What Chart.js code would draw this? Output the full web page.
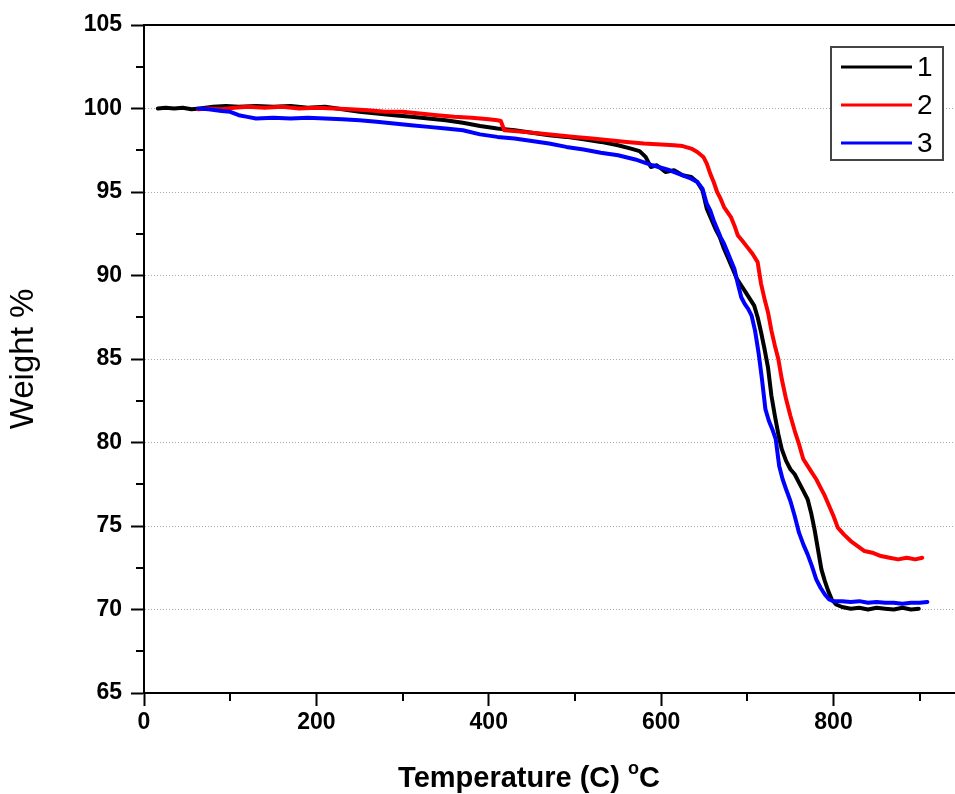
<!DOCTYPE html>
<html>
<head>
<meta charset="utf-8">
<script src="https://cdn.jsdelivr.net/npm/chart.js@4.4.1/dist/chart.umd.min.js"></script>
<style>
  html, body { margin: 0; padding: 0; background: #ffffff; }
  #wrap { width: 955px; height: 794px; }
</style>
</head>
<body>
<div id="wrap"><canvas id="c" width="955" height="794"></canvas></div>
<script>
// ---- data ----
const seriesLabels = ['1', '2', '3'];
const seriesColors = ['#000000', '#ff0000', '#0000ff'];

const temps1 = [
  16, 25, 35, 45, 55, 65, 80, 95, 110, 130,
  150, 170, 190, 210, 230, 250, 270, 290, 310, 330,
  350, 370, 390, 410, 430, 450, 470, 490, 510, 530,
  550, 565, 575, 582, 588, 595, 605, 615, 625, 635,
  642, 648, 653, 658, 663, 668, 673, 678, 683, 688,
  693, 698, 703, 708, 712, 716, 720, 724, 728, 732,
  736, 740, 745, 750, 755, 760, 765, 770, 774, 778,
  782, 786, 790, 794, 798, 803, 810, 820, 830, 840,
  850, 860, 870, 880, 890, 899
];
const weights1 = [
  100.0, 100.05, 100.0, 100.05, 99.95, 100.0, 100.1, 100.15, 100.1, 100.15,
  100.1, 100.15, 100.05, 100.1, 99.95, 99.8, 99.7, 99.6, 99.5, 99.4,
  99.3, 99.15, 98.95, 98.8, 98.7, 98.55, 98.4, 98.3, 98.15, 98.0,
  97.8, 97.6, 97.45, 97.1, 96.5, 96.6, 96.2, 96.3, 96.0, 95.9,
  95.6, 95.1, 94.0, 93.4, 92.8, 92.3, 91.6, 91.0, 90.4, 89.8,
  89.4, 89.0, 88.6, 88.2, 87.5, 86.6, 85.6, 84.5, 82.8, 81.6,
  80.5, 79.6, 78.9, 78.4, 78.1, 77.6, 77.1, 76.6, 75.8, 74.8,
  73.6, 72.4, 71.7, 71.1, 70.6, 70.3, 70.15, 70.05, 70.1, 70.0,
  70.1, 70.05, 70.0, 70.1, 70.0, 70.05
];

const temps2 = [
  63, 75, 90, 105, 120, 140, 160, 180, 200, 220,
  240, 260, 280, 300, 320, 340, 360, 380, 400, 410,
  414, 418, 440, 460, 480, 500, 520, 540, 560, 580,
  600, 615, 625, 635, 642, 649, 653, 657, 661, 665,
  669, 673, 677, 681, 685, 689, 694, 700, 706, 712,
  716, 720, 724, 728, 732, 736, 740, 745, 750, 755,
  760, 765, 770, 775, 780, 785, 790, 795, 800, 805,
  812, 820, 828, 836, 845, 855, 865, 875, 885, 895,
  903
];
const weights2 = [
  99.95, 100.0, 99.95, 100.05, 100.1, 100.05, 100.1, 100.0, 100.05, 100.0,
  99.95, 99.9, 99.8, 99.8, 99.7, 99.6, 99.5, 99.45, 99.35, 99.3,
  99.25, 98.7, 98.6, 98.5, 98.4, 98.3, 98.2, 98.1, 98.0, 97.9,
  97.85, 97.8, 97.75, 97.6, 97.4, 97.1, 96.7, 96.1, 95.6, 95.0,
  94.6, 94.1, 93.8, 93.5, 93.0, 92.4, 92.1, 91.7, 91.3, 90.8,
  89.5, 88.6, 87.8, 86.7, 85.8, 85.0, 83.8, 82.6, 81.6, 80.7,
  79.9, 79.0, 78.6, 78.2, 77.8, 77.3, 76.8, 76.2, 75.6, 74.9,
  74.5, 74.1, 73.8, 73.5, 73.4, 73.2, 73.1, 73.0, 73.1, 73.0,
  73.1
];

const temps3 = [
  63, 75, 90, 100, 110, 120, 130, 150, 170, 190,
  210, 230, 250, 270, 290, 310, 330, 350, 370, 390,
  410, 430, 450, 470, 490, 510, 530, 550, 570, 590,
  610, 625, 635, 642, 648, 653, 657, 661, 665, 669,
  673, 677, 681, 685, 689, 693, 697, 701, 705, 709,
  713, 717, 721, 725, 729, 733, 737, 741, 745, 750,
  755, 760, 765, 770, 775, 780, 785, 790, 795, 800,
  810, 820, 830, 840, 850, 860, 870, 880, 890, 900,
  909
];
const weights3 = [
  100.0, 99.95, 99.85, 99.8, 99.6, 99.5, 99.4, 99.45, 99.4, 99.45,
  99.4, 99.35, 99.3, 99.2, 99.1, 99.0, 98.9, 98.8, 98.7, 98.45,
  98.3, 98.2, 98.05, 97.9, 97.7, 97.55, 97.35, 97.2, 96.95, 96.6,
  96.3, 96.0, 95.8, 95.6, 95.2, 94.3, 93.9, 93.3, 92.8, 92.3,
  91.9, 91.4, 90.9, 90.4, 89.5, 88.7, 88.3, 88.0, 87.6, 86.7,
  85.4, 83.8, 82.0, 81.3, 80.8, 80.2, 78.6, 77.8, 77.2, 76.5,
  75.6, 74.6, 73.9, 73.3, 72.6, 71.8, 71.3, 70.9, 70.6, 70.5,
  70.5, 70.45, 70.5, 70.4, 70.45, 70.4, 70.4, 70.35, 70.4, 70.4,
  70.45
];

const xMajorTicks = [0, 200, 400, 600, 800];
const xMinorTicks = [100, 300, 500, 700, 900];
const yMajorTicks = [65, 70, 75, 80, 85, 90, 95, 100, 105];
const yMinorTicks = [67.5, 72.5, 77.5, 82.5, 87.5, 92.5, 97.5, 102.5];
const xAxisTitle = 'Temperature (C) ';
const xAxisTitleSup = 'o';
const xAxisTitleUnit = 'C';
const yAxisTitle = 'Weight %';

// ---- build ----
const FONT = '"Liberation Sans", Arial, Helvetica, sans-serif';
const allTemps = [temps1, temps2, temps3];
const allWeights = [weights1, weights2, weights3];

const datasets = seriesLabels.map((lab, i) => ({
  label: lab,
  data: allTemps[i].map((t, k) => ({ x: t, y: allWeights[i][k] })),
  borderColor: seriesColors[i],
  backgroundColor: seriesColors[i],
  borderWidth: 4,
  borderJoinStyle: 'round',
  borderCapStyle: 'round',
  pointRadius: 0,
  showLine: true,
  fill: false,
  tension: 0,
  order: 3 - i
}));

const decorPlugin = {
  id: 'decor',
  afterDraw(chart) {
    const ctx = chart.ctx;
    const a = chart.chartArea;
    const xs = chart.scales.x, ys = chart.scales.y;
    ctx.save();
    // top frame line
    ctx.strokeStyle = '#000';
    ctx.lineWidth = 2;
    ctx.beginPath();
    ctx.moveTo(a.left - 1, a.top);
    ctx.lineTo(a.right, a.top);
    ctx.stroke();
    // minor ticks
    ctx.lineWidth = 2;
    xMinorTicks.forEach(v => {
      const px = Math.round(xs.getPixelForValue(v));
      ctx.beginPath();
      ctx.moveTo(px, a.bottom);
      ctx.lineTo(px, a.bottom + 8);
      ctx.stroke();
    });
    yMinorTicks.forEach(v => {
      const py = Math.round(ys.getPixelForValue(v));
      ctx.beginPath();
      ctx.moveTo(a.left, py);
      ctx.lineTo(a.left - 8, py);
      ctx.stroke();
    });
    // x-axis title with superscript
    ctx.fillStyle = '#000';
    ctx.textBaseline = 'alphabetic';
    const mainFont = 'bold 29px ' + FONT;
    const supFont = 'bold 18px ' + FONT;
    ctx.font = mainFont;
    const w1 = ctx.measureText(xAxisTitle).width;
    const w3 = ctx.measureText(xAxisTitleUnit).width;
    ctx.font = supFont;
    const w2 = ctx.measureText(xAxisTitleSup).width;
    const total = w1 + w2 + w3;
    const cx = 529;
    let x0 = cx - total / 2;
    const base = 787;
    ctx.font = mainFont;
    ctx.textAlign = 'left';
    ctx.fillText(xAxisTitle, x0, base);
    ctx.font = supFont;
    ctx.fillText(xAxisTitleSup, x0 + w1, base - 13);
    ctx.font = mainFont;
    ctx.fillText(xAxisTitleUnit, x0 + w1 + w2, base);
    // legend
    const bx = 831, by = 47, bw = 112, bh = 113;
    ctx.fillStyle = '#fff';
    ctx.fillRect(bx, by, bw, bh);
    ctx.strokeStyle = '#444';
    ctx.lineWidth = 2;
    ctx.strokeRect(bx, by, bw, bh);
    ctx.font = '28px ' + FONT;
    ctx.textBaseline = 'middle';
    ctx.textAlign = 'left';
    seriesLabels.forEach((lab, i) => {
      const yy = 67 + i * 38;
      ctx.strokeStyle = seriesColors[i];
      ctx.lineWidth = 3;
      ctx.beginPath();
      ctx.moveTo(841, yy);
      ctx.lineTo(912, yy);
      ctx.stroke();
      ctx.fillStyle = '#000';
      ctx.fillText(lab, 917, yy + 1);
    });
    ctx.restore();
  }
};

new Chart(document.getElementById('c'), {
  type: 'scatter',
  data: { datasets },
  plugins: [decorPlugin],
  options: {
    responsive: false,
    animation: false,
    devicePixelRatio: 1,
    layout: { padding: { top: 25, right: 0, left: 0, bottom: 0 } },
    plugins: { legend: { display: false }, tooltip: { enabled: false } },
    scales: {
      x: {
        type: 'linear',
        min: 0,
        max: 941,
        afterBuildTicks: (s) => { s.ticks = xMajorTicks.map(v => ({ value: v })); },
        afterFit: (s) => { s.height = 101; },
        ticks: {
          color: '#000',
          font: { family: FONT, size: 23, weight: 'bold' },
          padding: 3,
          maxRotation: 0,
          autoSkip: false
        },
        grid: {
          drawOnChartArea: false,
          drawTicks: true,
          tickLength: 13,
          tickColor: '#000',
          tickWidth: 2
        },
        border: { display: true, color: '#000', width: 2 }
      },
      y: {
        type: 'linear',
        min: 65,
        max: 105,
        afterBuildTicks: (s) => { s.ticks = yMajorTicks.map(v => ({ value: v })); },
        afterFit: (s) => { s.width = 144; },
        ticks: {
          color: '#000',
          font: { family: FONT, size: 23, weight: 'bold' },
          padding: 9
        },
        grid: {
          drawOnChartArea: true,
          color: (c) => (c.tick && (c.tick.value === 65 || c.tick.value === 105)) ? 'rgba(0,0,0,0)' : '#a8a8a8',
          lineWidth: 1,
          drawTicks: true,
          tickLength: 13,
          tickColor: '#000',
          tickWidth: 2,
          tickBorderDash: []
        },
        border: { display: true, color: '#000', width: 2, dash: [1, 2] },
        title: {
          display: true,
          text: yAxisTitle,
          color: '#000',
          font: { family: FONT, size: 33, weight: 'normal' },
          padding: { top: 4, bottom: 0 }
        }
      }
    }
  }
});
</script>
</body>
</html>
